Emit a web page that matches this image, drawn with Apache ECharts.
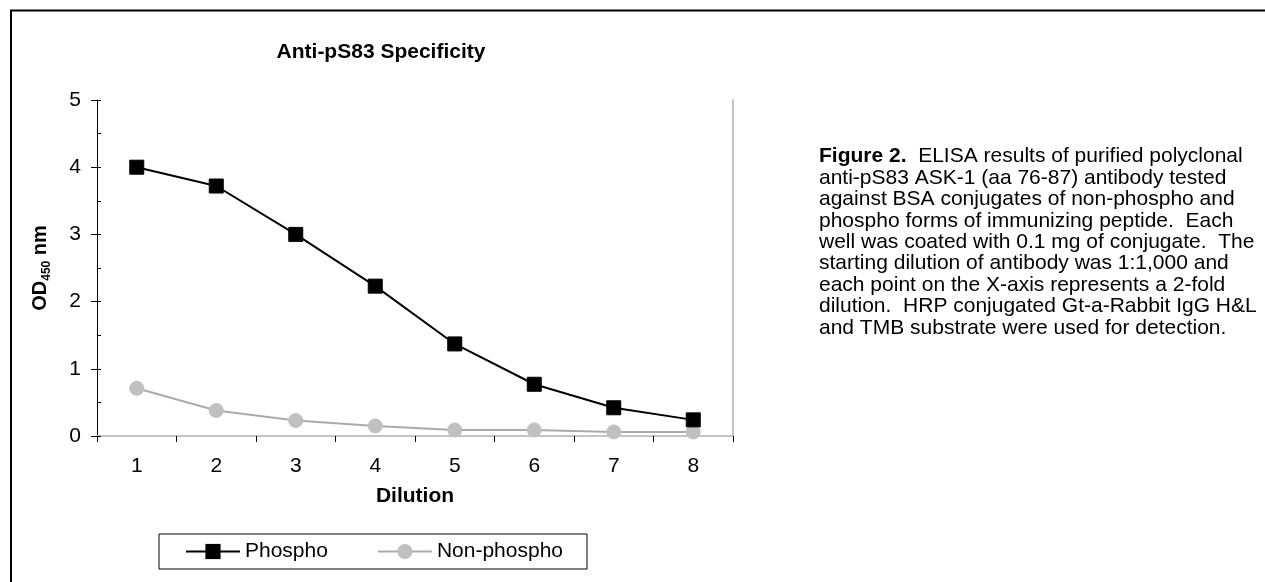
<!DOCTYPE html>
<html>
<head>
<meta charset="utf-8">
<script src="https://cdn.jsdelivr.net/npm/echarts@6/dist/echarts.min.js"></script>
<style>
  html, body { margin: 0; padding: 0; background: #fff; }
  #chart { width: 1265px; height: 582px; }
</style>
</head>
<body>
<div id="chart"></div>
<script>
// ---- data ----
const dilutions = ['1', '2', '3', '4', '5', '6', '7', '8'];
const phospho = [4.00, 3.72, 3.00, 2.23, 1.37, 0.77, 0.42, 0.24];
const nonPhospho = [0.71, 0.38, 0.23, 0.15, 0.09, 0.09, 0.06, 0.06];
const yTicks = { min: 0, max: 5, step: 1 };
const chartTitle = 'Anti-pS83 Specificity';
const xTitle = 'Dilution';
const captionLines = [
  '{b|Figure 2.}  ELISA results of purified polyclonal',
  'anti-pS83 ASK-1 (aa 76-87) antibody tested',
  'against BSA conjugates of non-phospho and',
  'phospho forms of immunizing peptide.  Each',
  'well was coated with 0.1 mg of conjugate.  The',
  'starting dilution of antibody was 1:1,000 and',
  'each point on the X-axis represents a 2-fold',
  'dilution.  HRP conjugated Gt-a-Rabbit IgG H&L',
  'and TMB substrate were used for detection.'
];

const FONT = '"Liberation Sans", Arial, Helvetica, sans-serif';
const chart = echarts.init(document.getElementById('chart'), null, { renderer: 'canvas' });

const gridRect = { left: 97, right: 532, top: 100, bottom: 146 };

const option = {
  animation: false,
  backgroundColor: '#ffffff',
  textStyle: { fontFamily: FONT, color: '#000' },
  title: [
    {
      text: chartTitle,
      left: 376, top: 37, textAlign: 'center',
      textStyle: { fontFamily: FONT, fontSize: 21, fontWeight: 'bold', color: '#000' }
    },
    {
      text: captionLines.join('\n'),
      left: 814, top: 141,
      textStyle: {
        fontFamily: FONT, fontSize: 21, fontWeight: 'normal', color: '#000', lineHeight: 21.4,
        rich: {
          b: { fontFamily: FONT, fontSize: 21, fontWeight: 'bold', color: '#000', lineHeight: 21.4 }
        }
      }
    }
  ],
  legend: {
    left: 159, top: 534,
    orient: 'horizontal',
    backgroundColor: '#fff',
    borderColor: '#000', borderWidth: 1,
    padding: [7, 24, 7, 26],
    itemWidth: 54, itemHeight: 19, itemGap: 49,
    textStyle: { fontFamily: FONT, fontSize: 21, color: '#000' },
    data: ['Phospho', 'Non-phospho']
  },
  grid: [
    Object.assign({ containLabel: false }, gridRect),
    Object.assign({ containLabel: false }, gridRect)
  ],
  xAxis: [
    {
      gridIndex: 0, type: 'category', data: dilutions, position: 'bottom',
      boundaryGap: true,
      axisLine: { show: true, onZero: false, lineStyle: { color: '#000', width: 1 } },
      axisTick: { show: true, alignWithLabel: false, length: 6, lineStyle: { color: '#000' } },
      axisLabel: { fontFamily: FONT, fontSize: 21, color: '#000', margin: 20 },
      name: xTitle, nameLocation: 'middle', nameGap: 50,
      nameTextStyle: { fontFamily: FONT, fontSize: 21, fontWeight: 'bold', color: '#000' },
      splitLine: { show: false }
    },
    {
      gridIndex: 0, type: 'category', data: dilutions, position: 'top',
      axisLine: { show: true, lineStyle: { color: '#c4c4c4', width: 2 } },
      axisTick: { show: false }, axisLabel: { show: false }, splitLine: { show: false }
    },
    {
      gridIndex: 1, type: 'category', data: dilutions, show: false
    }
  ],
  yAxis: [
    {
      gridIndex: 0, type: 'value', position: 'left',
      min: yTicks.min, max: yTicks.max, interval: yTicks.step,
      axisLine: { show: true, lineStyle: { color: '#000', width: 1 } },
      axisTick: { show: true, inside: false, length: 6, lineStyle: { color: '#000' } },
      axisLabel: { fontFamily: FONT, fontSize: 21, color: '#000', margin: 16 },
      splitLine: { show: false },
      name: '{a|OD}{s|450}{a| nm}', nameLocation: 'middle', nameGap: 44, nameRotate: 90,
      nameTextStyle: {
        fontFamily: FONT, fontWeight: 'bold', color: '#000',
        rich: {
          a: { fontFamily: FONT, fontSize: 20, fontWeight: 'bold', color: '#000', lineHeight: 26, verticalAlign: 'middle' },
          s: { fontFamily: FONT, fontSize: 12, fontWeight: 'bold', color: '#000', lineHeight: 12, verticalAlign: 'bottom' }
        }
      }
    },
    {
      gridIndex: 0, type: 'value', position: 'right',
      min: yTicks.min, max: yTicks.max, interval: yTicks.step,
      axisLine: { show: true, lineStyle: { color: '#c4c4c4', width: 2 } },
      axisTick: { show: false }, axisLabel: { show: false }, splitLine: { show: false }
    },
    {
      gridIndex: 1, type: 'value', position: 'left',
      min: yTicks.min, max: yTicks.max, interval: yTicks.step / 2,
      axisLine: { show: false },
      axisTick: { show: true, inside: true, length: 4, lineStyle: { color: '#000' } },
      axisLabel: { show: false }, splitLine: { show: false }
    }
  ],
  graphic: [
    {
      type: 'rect', silent: true, z: 100,
      shape: { x: 11, y: 10.5, width: 1400, height: 800 },
      style: { fill: 'none', stroke: '#000', lineWidth: 2 }
    }
  ],
  series: [
    {
      name: 'Phospho', type: 'line', xAxisIndex: 0, yAxisIndex: 0,
      data: phospho,
      symbol: 'rect', symbolSize: 14, showAllSymbol: true,
      lineStyle: { color: '#000', width: 2 },
      itemStyle: { color: '#000', borderColor: '#000' },
      z: 3
    },
    {
      name: 'Non-phospho', type: 'line', xAxisIndex: 0, yAxisIndex: 0,
      data: nonPhospho,
      symbol: 'circle', symbolSize: 14, showAllSymbol: true,
      lineStyle: { color: '#ababab', width: 2 },
      itemStyle: { color: '#c0c0c0', borderColor: '#c0c0c0' },
      z: 2
    }
  ]
};

chart.setOption(option);
</script>
</body>
</html>
